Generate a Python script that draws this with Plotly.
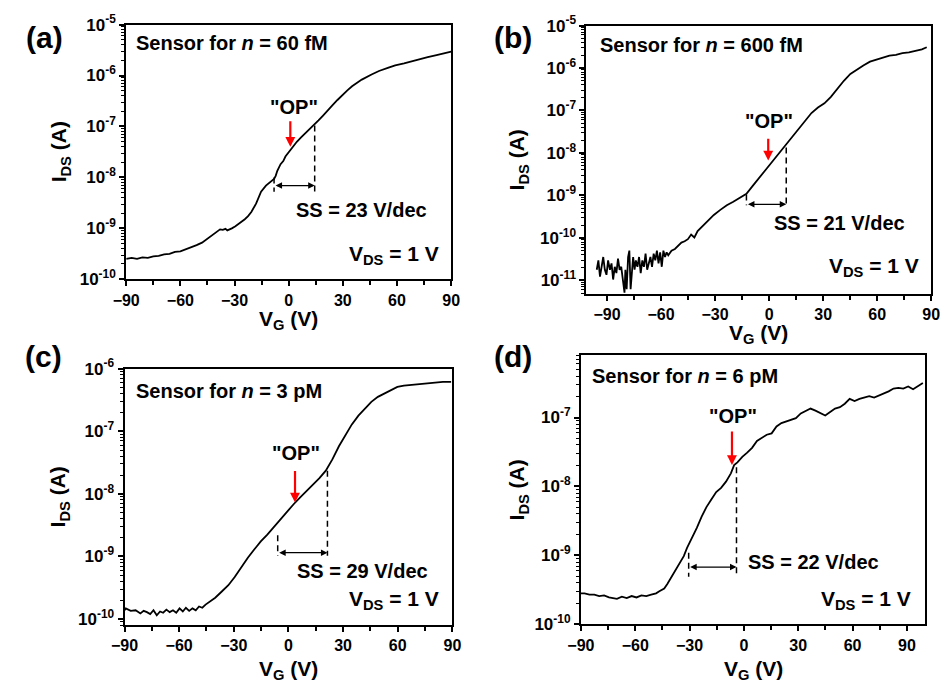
import numpy as np
import plotly.graph_objects as go

# ---------------- transfer curves: V_G (V) and log10(I_DS / A) ----------------
vg_a = [-90, -87, -84, -81, -78, -75, -72, -69, -66, -63, -60, -57, -54, -51, -48, -45,
        -42, -40, -38, -36.5, -35, -34, -32.5, -31.5, -29.5, -27.9, -26, -24.3, -22.5, -20.7,
        -18.0, -15.3, -12.6, -9.9, -8.1, -7.2, -6.3, -4.5, -3, -1.8, 0.9, 2.5, 4.5, 7, 9.9,
        12, 14.4, 16.5, 18.9, 21.5, 24.3, 27, 29.7, 32.5, 35.1, 40.5, 45.9, 50, 54.9, 59,
        63.9, 68, 72.9, 77, 81.9, 86, 90]
logi_a = [-9.60, -9.58, -9.60, -9.57, -9.58, -9.55, -9.54, -9.51, -9.50, -9.46, -9.45, -9.41,
          -9.38, -9.33, -9.28, -9.20, -9.11, -9.06, -9.02, -9.03, -9.01, -9.04, -9.02, -9.00,
          -8.96, -8.92, -8.87, -8.82, -8.76, -8.68, -8.51, -8.28, -8.16, -8.08, -8.03, -7.97,
          -7.87, -7.74, -7.68, -7.59, -7.46, -7.40, -7.30, -7.21, -7.11, -7.05, -6.96, -6.88,
          -6.79, -6.68, -6.58, -6.48, -6.38, -6.29, -6.21, -6.08, -5.98, -5.91, -5.85, -5.80,
          -5.76, -5.72, -5.68, -5.64, -5.60, -5.56, -5.53]

vg_b = [-95.7, -94.8, -93.9, -93.0, -92.1, -91.2, -90.3, -89.4, -88.4, -87.5, -86.6, -85.7,
        -84.8, -83.9, -83.0, -82.1, -81.2, -80.3, -79.8, -79.1, -78.3, -77.6, -76.9, -76.2,
        -75.5, -74.7, -74.0, -73.1, -72.2, -71.3, -70.4, -69.5, -68.6, -67.7, -66.8, -65.9,
        -65.0, -64.1, -63.2, -62.3, -61.4, -60.5, -59.6, -58.7, -57.8, -56.9, -56.0, -54.2,
        -52.3, -50.5, -48.7, -46.9, -45.1, -43.3, -41.5, -39.7, -37.9, -34.3, -30.7, -27.1,
        -23.5, -19.9, -16.2, -12.6, -9.0, -5.4, -1.8, 1.8, 5.4, 9.0, 12.6, 16.2, 19.9, 23.5,
        27.1, 30.7, 34.3, 37.9, 41.5, 45.1, 48.7, 52.3, 56.0, 59.6, 63.2, 66.8, 70.4, 74.0,
        77.6, 81.2, 84.8, 87.5]
logi_b = [-10.75, -10.53, -10.91, -10.68, -10.45, -10.75, -10.87, -10.53, -10.75, -10.60,
          -10.98, -10.68, -10.83, -10.49, -10.75, -10.68, -10.98, -11.29, -10.75, -11.21,
          -10.45, -10.30, -11.21, -10.68, -10.45, -10.75, -10.53, -10.68, -10.45, -10.83,
          -10.53, -10.68, -10.37, -10.75, -10.60, -10.45, -10.68, -10.37, -10.53, -10.30,
          -10.60, -10.34, -10.68, -10.30, -10.45, -10.34, -10.41, -10.30, -10.26, -10.18,
          -10.11, -10.08, -10.03, -9.92, -9.99, -9.84, -9.76, -9.61, -9.46, -9.34, -9.23,
          -9.15, -9.06, -8.96, -8.77, -8.58, -8.39, -8.20, -8.01, -7.82, -7.63, -7.44, -7.25,
          -7.06, -6.93, -6.83, -6.68, -6.49, -6.30, -6.14, -6.03, -5.94, -5.85, -5.80, -5.75,
          -5.71, -5.69, -5.65, -5.63, -5.59, -5.56, -5.51]

vg_c = [-90.0, -89.3, -86.6, -83.9, -81.3, -79.5, -77.7, -75.9, -74.1, -72.3, -70.5, -68.8,
        -67.0, -65.2, -63.4, -61.6, -59.8, -58.0, -56.3, -54.5, -52.7, -50.9, -49.1, -47.3,
        -45.5, -43.8, -40.2, -36.6, -33.0, -29.5, -25.9, -22.3, -18.8, -15.2, -11.6, -8.0,
        -4.5, -0.9, 2.7, 6.3, 9.8, 13.4, 17.0, 20.5, 24.1, 27.7, 31.3, 34.8, 38.4, 42.0,
        45.5, 49.1, 52.7, 56.3, 59.8, 63.4, 67.0, 70.5, 74.1, 77.7, 81.3, 84.8, 89.3]
logi_c = [-9.86, -9.83, -9.87, -9.86, -9.91, -9.87, -9.89, -9.92, -9.86, -9.94, -9.88, -9.90,
          -9.85, -9.89, -9.86, -9.90, -9.83, -9.88, -9.82, -9.87, -9.83, -9.86, -9.80, -9.82,
          -9.77, -9.73, -9.66, -9.56, -9.46, -9.33, -9.17, -9.02, -8.89, -8.76, -8.65, -8.53,
          -8.40, -8.28, -8.17, -8.06, -7.96, -7.86, -7.75, -7.63, -7.45, -7.24, -7.06, -6.89,
          -6.75, -6.63, -6.53, -6.45, -6.40, -6.34, -6.29, -6.27, -6.26, -6.24, -6.23, -6.22,
          -6.22, -6.21, -6.21]

vg_d = [-90.0, -88.0, -85.3, -82.6, -79.9, -77.2, -74.5, -71.9, -70.1, -67.4, -64.7, -62.0,
        -59.3, -56.6, -53.9, -51.2, -48.5, -46.7, -44.0, -42.2, -40.4, -38.6, -35.9, -33.2,
        -31.4, -28.7, -26.0, -23.4, -20.7, -18.0, -15.3, -12.6, -9.9, -7.2, -5.4, -3.6, -0.9,
        1.8, 4.5, 7.2, 9.9, 12.6, 15.3, 18.0, 20.7, 23.4, 26.0, 28.7, 31.4, 34.1, 36.8, 39.5,
        42.2, 44.9, 47.6, 50.3, 53.0, 55.7, 58.4, 61.1, 63.8, 66.5, 69.2, 71.9, 74.5, 77.2,
        79.9, 82.6, 85.3, 88.0, 90.7, 93.4, 96.1, 98.8]
logi_d = [-9.55, -9.55, -9.57, -9.57, -9.59, -9.58, -9.61, -9.62, -9.63, -9.60, -9.62, -9.59,
          -9.61, -9.58, -9.59, -9.57, -9.55, -9.52, -9.48, -9.41, -9.33, -9.26, -9.15, -9.01,
          -8.89, -8.75, -8.60, -8.44, -8.30, -8.19, -8.08, -8.02, -7.93, -7.81, -7.69, -7.65,
          -7.57, -7.51, -7.44, -7.34, -7.30, -7.25, -7.23, -7.13, -7.08, -7.06, -7.04, -7.01,
          -6.94, -6.90, -6.87, -6.90, -6.94, -6.97, -6.92, -6.87, -6.85, -6.80, -6.73, -6.76,
          -6.73, -6.71, -6.69, -6.71, -6.68, -6.66, -6.62, -6.58, -6.57, -6.58, -6.55, -6.59,
          -6.55, -6.50]

# ---------------- y tick labels (decades) ----------------
decade_exp = [-12, -11, -10, -9, -8, -7, -6, -5]
decade_vals = [10.0 ** e for e in decade_exp]
decade_text = ["10<sup>%d</sup>" % e for e in decade_exp]
# logarithmic minor ticks (2..9 in every decade)
minor_log = [m * 10.0 ** e for e in decade_exp for m in range(2, 10)]

# ---------------- annotations per panel ----------------
labels = ["(a)", "(b)", "(c)", "(d)"]
sensor_text = ["60 fM", "600 fM", "3 pM", "6 pM"]
ss_text = ["23", "21", "29", "22"]

# OP marker: arrow x, arrow top/bottom (log10 I), label x, label y
op_x = [0.9, -0.5, 3.6, -6.6]
op_top = [-6.87, -7.63, -7.61, -7.18]
op_bot = [-7.40, -8.18, -8.14, -7.69]
op_lx = [2.7, 0.0, 4.1, -6.3]
op_ly = [-6.62, -7.25, -7.35, -6.98]

# subthreshold-swing construction: left V, right V, levels (log10 I)
ss_left = [-8.1, -12.6, -5.9, -30.5]
ss_right = [14.4, 9.5, 21.4, -4.1]
ss_left_top = [-8.00, -8.98, -8.66, -8.96]
ss_right_top = [-6.98, -7.87, -7.63, -7.72]
ss_bottom = [-8.28, -9.23, -8.99, -9.31]
ss_arrow_y = [-8.16, -9.21, -8.94, -9.17]
ss_tx = [3.1, 1.4, 3.6, 1.4]
ss_ty = [-8.63, -9.66, -9.24, -9.09]

sensor_x = [-85.5, -94.8, -84.8, -85.0]
sensor_y = [-5.37, -5.46, -6.35, -6.40]
vds_x = [84.6, 84.5, 83.9, 93.4]
vds_y = [-9.52, -10.68, -9.69, -9.64]

# ---------------- layout geometry ----------------
x_dom = [[0.1209, 0.4711], [0.6169, 0.9884], [0.1191, 0.4724], [0.6109, 0.9821]]
y_dom = [[0.6034, 0.9813], [0.5823, 0.9799], [0.0901, 0.4708], [0.0915, 0.4914]]
x_rng = [[-90, 90], [-101.4, 90], [-90, 90], [-90, 100.2]]
y_rng = [[-10, -5], [-11.31, -5], [-10.1, -6], [-10, -6.09]]
lab_pos = [(0.033, 0.962), (0.538, 0.962), (0.032, 0.489), (0.538, 0.489)]
ytitle_x = [0.050, 0.543, 0.049, 0.543]
xtitle_y = [0.543, 0.522, 0.024, 0.023]

FONT = "Arial, Liberation Sans, sans-serif"
curves = [(vg_a, logi_a), (vg_b, logi_b), (vg_c, logi_c), (vg_d, logi_d)]


def bold(size, color="black"):
    return dict(family=FONT, size=size, color=color, weight="bold")


fig = go.Figure()
annotations = []

for i, (vg, lg) in enumerate(curves):
    n = "" if i == 0 else str(i + 1)
    xr, yr = "x" + n, "y" + n

    fig.add_trace(go.Scatter(x=vg, y=10 ** np.array(lg), mode="lines",
                             line=dict(color="black", width=1.8),
                             xaxis=xr, yaxis=yr, showlegend=False))
    # dashed verticals marking the one-decade swing
    fig.add_trace(go.Scatter(x=[ss_right[i], ss_right[i]],
                             y=[10 ** ss_right_top[i], 10 ** ss_bottom[i]], mode="lines",
                             line=dict(color="black", width=1.5, dash="6px,4px"),
                             xaxis=xr, yaxis=yr, showlegend=False))
    fig.add_trace(go.Scatter(x=[ss_left[i], ss_left[i]],
                             y=[10 ** ss_left_top[i], 10 ** ss_bottom[i]], mode="lines",
                             line=dict(color="black", width=1.5, dash="6px,4px"),
                             xaxis=xr, yaxis=yr, showlegend=False))

    # double-headed arrow
    annotations.append(dict(xref=xr, yref=yr, axref=xr, ayref=yr,
                            x=ss_right[i], y=ss_arrow_y[i], ax=ss_left[i], ay=ss_arrow_y[i],
                            text="", showarrow=True, arrowhead=2, startarrowhead=2,
                            arrowside="end+start", arrowsize=1, startarrowsize=1,
                            arrowwidth=1.3, arrowcolor="black", standoff=0, startstandoff=0))
    # red OP arrow
    annotations.append(dict(xref=xr, yref=yr, axref=xr, ayref=yr,
                            x=op_x[i], y=op_bot[i], ax=op_x[i], ay=op_top[i],
                            text="", showarrow=True, arrowhead=2, arrowsize=0.9,
                            arrowwidth=2.2, arrowcolor="#ff0000", standoff=0))
    annotations.append(dict(xref=xr, yref=yr, x=op_lx[i], y=op_ly[i], text='"OP"',
                            xanchor="center", yanchor="middle",
                            showarrow=False, font=bold(20)))
    annotations.append(dict(xref=xr, yref=yr, x=ss_tx[i], y=ss_ty[i],
                            xanchor="left", yanchor="middle",
                            text="SS = %s V/dec" % ss_text[i], showarrow=False,
                            font=bold(20)))
    annotations.append(dict(xref=xr, yref=yr, x=sensor_x[i], y=sensor_y[i],
                            xanchor="left", yanchor="middle",
                            text="Sensor for <i>n</i> = %s" % sensor_text[i], showarrow=False,
                            font=bold(20)))
    annotations.append(dict(xref=xr, yref=yr, x=vds_x[i], y=vds_y[i],
                            xanchor="right", yanchor="middle",
                            text="V<sub>DS</sub> = 1 V", showarrow=False,
                            font=bold(21)))
    # panel letter and axis titles
    annotations.append(dict(xref="paper", yref="paper", x=lab_pos[i][0], y=lab_pos[i][1],
                            xanchor="center", yanchor="middle",
                            text=labels[i], showarrow=False, font=bold(30)))
    annotations.append(dict(xref="paper", yref="paper", x=ytitle_x[i],
                            y=(y_dom[i][0] + y_dom[i][1]) / 2, textangle=-90,
                            xanchor="center", yanchor="middle",
                            text="I<sub>DS</sub> (A)", showarrow=False, font=bold(21)))
    annotations.append(dict(xref="paper", yref="paper", y=xtitle_y[i],
                            x=(x_dom[i][0] + x_dom[i][1]) / 2,
                            xanchor="center", yanchor="middle",
                            text="V<sub>G</sub> (V)", showarrow=False, font=bold(21)))

    fig.layout["xaxis" + n] = dict(
        domain=x_dom[i], anchor=yr, range=x_rng[i], tick0=0, dtick=30,
        showline=True, linecolor="black", linewidth=2, mirror=True,
        ticks="outside", ticklen=5, tickwidth=1.5, tickcolor="black",
        minor=dict(ticks="outside", ticklen=4, tickwidth=1.5, tickcolor="black",
                   tick0=15, dtick=30),
        showgrid=False, zeroline=False, tickfont=bold(16))
    fig.layout["yaxis" + n] = dict(
        domain=y_dom[i], anchor=xr, type="log", range=y_rng[i],
        tickmode="array", tickvals=decade_vals, ticktext=decade_text,
        showline=True, linecolor="black", linewidth=2, mirror=True,
        ticks="outside", ticklen=5, tickwidth=1.5, tickcolor="black",
        minor=dict(ticks="outside", ticklen=3, tickwidth=1, tickcolor="black",
                   tickmode="array", tickvals=minor_log),
        showgrid=False, zeroline=False, tickfont=bold(17))

fig.update_layout(width=951, height=696, margin=dict(l=0, r=0, t=0, b=0),
                  paper_bgcolor="white", plot_bgcolor="white",
                  annotations=annotations, showlegend=False)

fig.write_html("out.html")
